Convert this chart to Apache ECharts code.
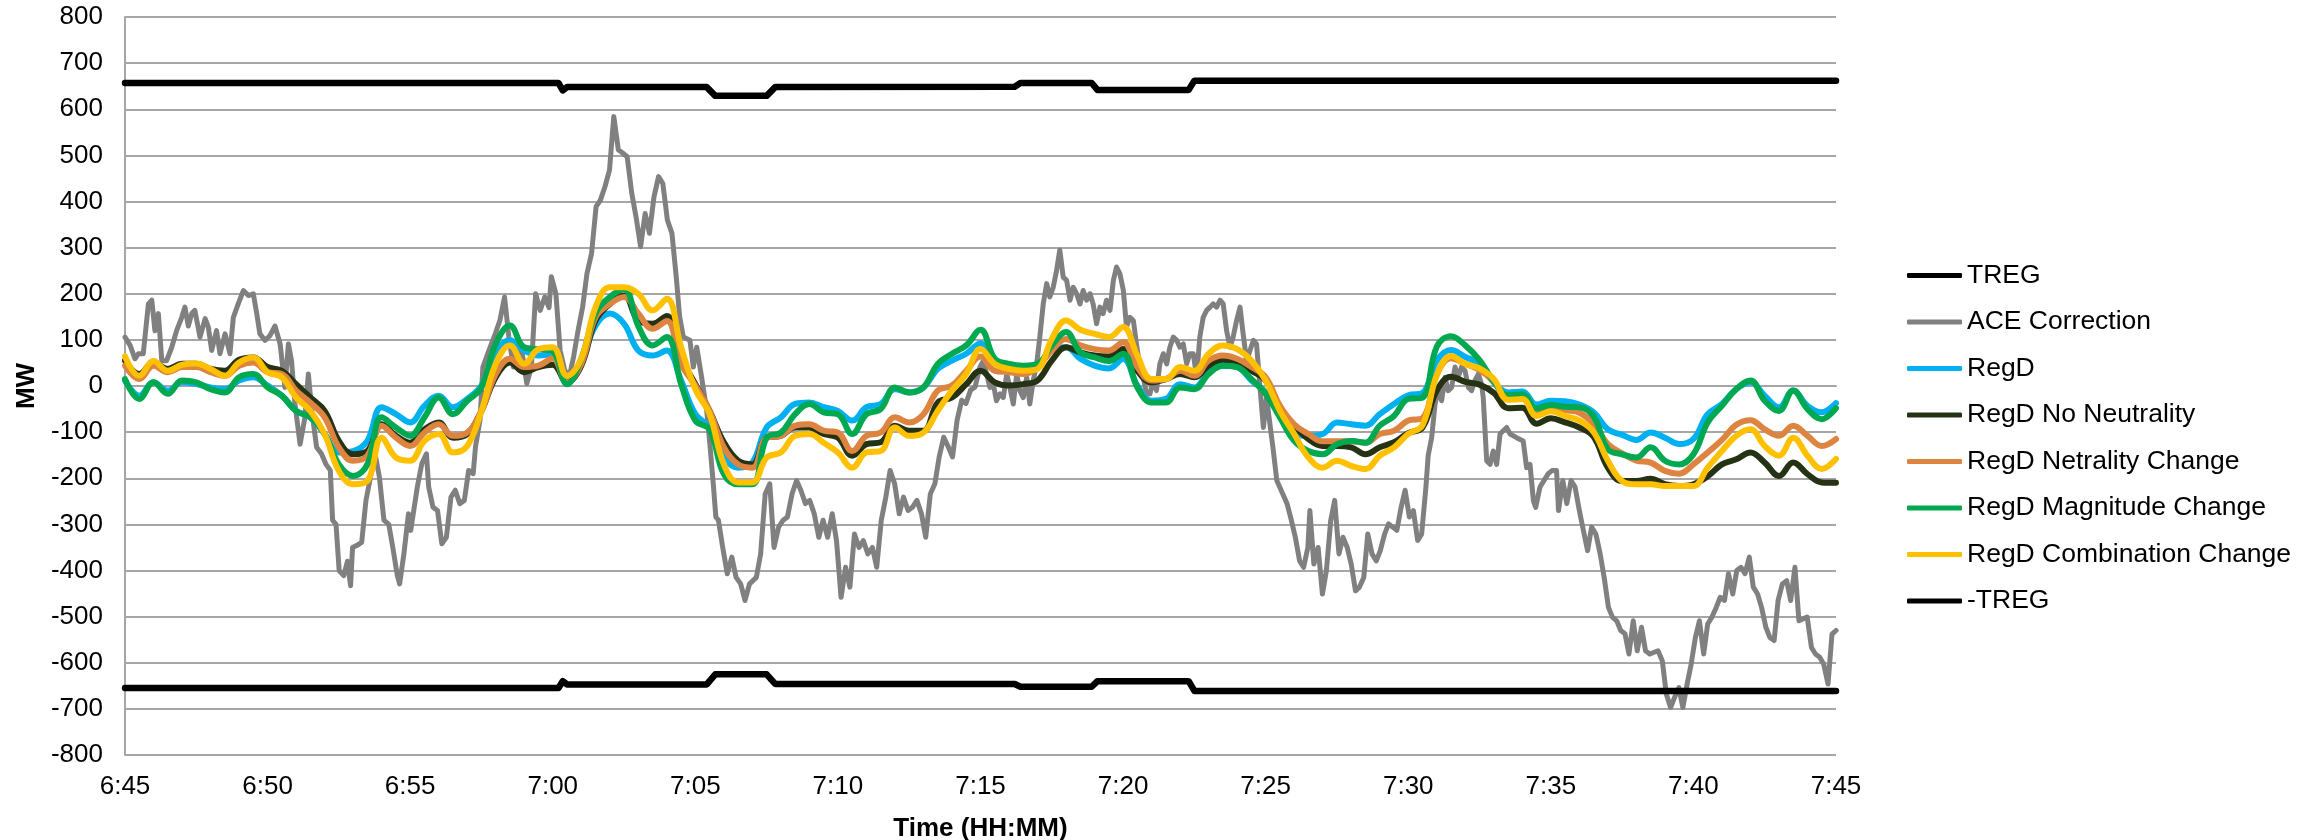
<!DOCTYPE html>
<html>
<head>
<meta charset="utf-8">
<title>RegD signals vs ACE correction</title>
<script src="https://cdn.jsdelivr.net/npm/echarts/dist/echarts.min.js"></script>
<style>
  html, body { margin: 0; padding: 0; background: #fff; }
  #chart { width: 2316px; height: 840px; }
</style>
</head>
<body>
<div id="chart"></div>
<script>
// x values are minutes after 6:45
var tickLabels = ["6:45", "6:50", "6:55", "7:00", "7:05", "7:10", "7:15", "7:20", "7:25", "7:30", "7:35", "7:40", "7:45"];

// TREG / -TREG are step-like, so they keep their own break points
var tregT = [0, 15.2, 15.35, 15.5, 20.4, 20.7, 22.5, 22.8, 31.2, 31.4, 33.9, 34.1, 37.3, 37.5, 60];
var tregV = [657, 657, 641, 648, 648, 629, 629, 648, 649, 657, 657, 642, 642, 662, 662];
var negTregV = [-655, -655, -640, -647, -647, -625, -625, -646, -646, -652, -652, -640, -640, -661, -661];

// ACE correction, read at irregular times
var aceT = [0, 0.18, 0.35, 0.47, 0.64, 0.82, 0.94, 1.05, 1.17, 1.29, 1.46, 1.64, 1.81, 1.99, 2.1, 2.22, 2.34, 2.45, 2.63, 2.81,
  2.92, 3.04, 3.21, 3.33, 3.51, 3.68, 3.8, 3.97, 4.15, 4.33, 4.5, 4.62, 4.73, 4.91, 5.08, 5.26, 5.44, 5.61, 5.73, 5.84,
  5.96, 6.14, 6.31, 6.43, 6.55, 6.72, 6.89, 7.05, 7.2, 7.28, 7.4, 7.51, 7.67, 7.8, 7.91, 7.98, 8.15, 8.3, 8.45, 8.61,
  8.77, 8.92, 9.08, 9.25, 9.39, 9.55, 9.63, 9.78, 9.94, 10.02, 10.25, 10.41, 10.57, 10.65, 10.8, 10.96, 11.11, 11.27, 11.43, 11.58,
  11.74, 11.9, 12.05, 12.21, 12.29, 12.45, 12.55, 12.76, 12.99, 13.15, 13.31, 13.46, 13.62, 13.78, 13.93, 14.09, 14.25, 14.4, 14.56, 14.72,
  14.87, 14.95, 15.11, 15.26, 15.42, 15.58, 15.73, 15.89, 16.05, 16.2, 16.36, 16.52, 16.67, 16.83, 16.99, 17.14, 17.3, 17.45, 17.61, 17.77,
  17.92, 18.08, 18.24, 18.39, 18.55, 18.71, 18.86, 19.02, 19.18, 19.33, 19.45, 19.58, 19.81, 19.93, 20.05, 20.22, 20.4, 20.51, 20.63, 20.72,
  20.81, 20.96, 21.12, 21.28, 21.43, 21.59, 21.74, 21.9, 22.14, 22.29, 22.45, 22.61, 22.76, 22.92, 23.08, 23.23, 23.39, 23.55, 23.7, 23.86,
  24.01, 24.17, 24.33, 24.48, 24.64, 24.8, 24.95, 25.11, 25.27, 25.42, 25.58, 25.74, 25.89, 26.05, 26.21, 26.36, 26.52, 26.68, 26.83, 26.99,
  27.15, 27.3, 27.46, 27.61, 27.77, 27.93, 28.08, 28.24, 28.4, 28.55, 28.71, 28.87, 29.02, 29.18, 29.34, 29.49, 29.65, 29.81, 29.98, 30.1,
  30.33, 30.45, 30.56, 30.68, 30.8, 30.92, 31.03, 31.15, 31.27, 31.38, 31.5, 31.62, 31.73, 31.85, 31.97, 32.08, 32.2, 32.32, 32.43, 32.55,
  32.67, 32.78, 32.9, 33.02, 33.14, 33.25, 33.37, 33.49, 33.6, 33.72, 33.84, 33.95, 34.07, 34.19, 34.3, 34.42, 34.54, 34.66, 34.77, 34.89,
  35.01, 35.12, 35.24, 35.36, 35.47, 35.59, 35.71, 35.82, 35.94, 36.06, 36.17, 36.29, 36.41, 36.53, 36.64, 36.76, 36.88, 36.99, 37.11, 37.23,
  37.34, 37.46, 37.58, 37.69, 37.81, 37.93, 38.05, 38.16, 38.28, 38.4, 38.51, 38.63, 38.75, 38.86, 38.98, 39.1, 39.21, 39.33, 39.45, 39.57,
  39.68, 39.8, 39.92, 40.03, 40.15, 40.27, 40.39, 40.6, 40.75, 40.9, 41.04, 41.19, 41.33, 41.48, 41.55, 41.69, 41.84, 41.99, 42.13, 42.28,
  42.42, 42.57, 42.71, 42.86, 43, 43.15, 43.29, 43.44, 43.58, 43.73, 43.88, 44.02, 44.17, 44.31, 44.46, 44.6, 44.75, 44.89, 45.04, 45.18,
  45.33, 45.47, 45.62, 45.7, 45.82, 45.94, 46.05, 46.17, 46.29, 46.4, 46.52, 46.64, 46.75, 46.87, 46.99, 47.11, 47.22, 47.34, 47.46, 47.57,
  47.63, 47.75, 47.87, 47.98, 48.1, 48.22, 48.33, 48.45, 48.57, 48.8, 49.03, 49.15, 49.27, 49.39, 49.47, 49.62, 49.91, 50.05, 50.2, 50.27,
  50.42, 50.56, 50.71, 50.85, 51, 51.14, 51.29, 51.43, 51.58, 51.73, 51.87, 52.02, 52.16, 52.31, 52.45, 52.6, 52.74, 52.89, 53.03, 53.18,
  53.32, 53.47, 53.76, 53.91, 54.05, 54.2, 54.34, 54.49, 54.63, 54.78, 54.92, 55.07, 55.21, 55.36, 55.5, 55.65, 55.8, 55.94, 56.09, 56.23,
  56.38, 56.52, 56.67, 56.81, 56.96, 57.1, 57.25, 57.39, 57.54, 57.68, 57.83, 57.97, 58.12, 58.27, 58.41, 58.56, 58.7, 58.99, 59.14, 59.28,
  59.43, 59.57, 59.72, 59.86, 60];
var aceV = [106, 88, 59, 70, 70, 178, 186, 120, 157, 55, 55, 84, 120, 149, 171, 130, 157, 164, 106, 146,
  128, 77, 120, 70, 113, 70, 149, 178, 207, 196, 200, 157, 113, 99, 109, 130, 91, -3, 91, 55,
  -39, -126, -68, 26, -54, -133, -147, -170, -183, -291, -300, -400, -411, -380, -433, -350, -345, -339, -248, -197,
  -147, -197, -291, -300, -350, -411, -429, -364, -277, -313, -219, -168, -147, -219, -263, -270, -342, -328, -241, -226,
  -255, -248, -183, -190, -132, -74, 41, 77, 114, 143, 193, 106, 41, 77, 70, 5, 41, 200, 164, 193,
  170, 237, 200, 77, 34, 20, 63, 121, 172, 244, 287, 389, 403, 432, 468, 584, 512, 505, 497, 418,
  367, 302, 374, 331, 410, 454, 439, 360, 331, 237, 150, 106, 99, 41, 84, 19, -54, -126, -213, -284,
  -291, -350, -407, -371, -415, -429, -465, -429, -415, -364, -234, -212, -350, -306, -291, -284, -234, -205, -226, -255,
  -248, -277, -328, -291, -328, -277, -335, -458, -393, -436, -321, -350, -335, -364, -350, -393, -291, -241, -183, -212,
  -277, -241, -270, -263, -248, -277, -328, -234, -212, -154, -111, -132, -154, -74, -31, -38, -9, -2, 41, 55,
  -3, 4, -32, -17, -25, 26, -3, -39, 26, -10, -25, 19, -39, 12, 48, 106, 178, 222, 193, 214,
  251, 295, 236, 229, 186, 214, 200, 178, 207, 186, 200, 178, 135, 171, 157, 186, 164, 229, 258, 243,
  207, 128, 149, 142, 91, 41, 19, -17, -17, 12, -10, 48, 70, 48, 84, 106, 99, 84, 91, 48,
  70, 70, 19, 106, 149, 164, 171, 178, 171, 186, 178, 120, 84, 106, 142, 171, 113, 55, 77, 99,
  91, -3, -90, -25, -83, -141, -205, -234, -255, -291, -328, -379, -393, -350, -270, -386, -350, -451, -400, -292,
  -248, -364, -328, -350, -386, -444, -436, -415, -321, -364, -379, -357, -321, -299, -306, -313, -263, -226, -284, -270,
  -335, -321, -219, -150, -112, -39, -10, -32, 19, -10, -3, 41, 19, 41, 33, -3, -10, 12, 26, 4,
  -25, -162, -170, -141, -170, -104, -97, -90, -104, -112, -119, -177, -170, -249, -263, -219, -190, -183, -183, -270,
  -205, -255, -205, -219, -270, -313, -357, -306, -321, -364, -415, -480, -501, -509, -530, -537, -581, -509, -574, -523,
  -574, -581, -574, -596, -668, -697, -675, -654, -697, -646, -603, -545, -509, -581, -516, -501, -480, -458, -465, -407,
  -451, -400, -393, -407, -371, -436, -451, -480, -523, -545, -552, -465, -429, -422, -465, -393, -509, -501, -567, -581,
  -588, -603, -646, -538, -530];

// RegD family, one reading every 30 s from 6:45:00 to 7:45:00
var regD = [12, -21, 8, -10, 8, 4, -3, -7, 12, 19,
  1, -21, -54, -68, -104, -144, -141, -119, -46, -61,
  -79, -43, -21, -46, -28, 1, 73, 99, 77, 66,
  70, 8, 55, 131, 157, 135, 77, 66, 77, 12,
  -61, -90, -155, -177, -166, -90, -68, -39, -36, -46,
  -54, -75, -46, -39, -7, -14, -3, 37, 55, 70,
  92, 51, 41, 33, 41, 80, 84, 59, 44, 38,
  59, 1, -32, -28, 4, -3, 30, 44, 41, 12,
  -14, -65, -104, -108, -104, -79, -83, -86, -61, -39,
  -20, -15, 55, 78, 63, 48, 8, -14, -12, -40,
  -32, -33, -40, -57, -94, -106, -117, -101, -112, -126,
  -115, -61, -39, -7, 8, -21, -46, -10, -43, -57,
  -37];
var regDNoNeutral = [55, 26, 51, 37, 48, 48, 37, 33, 57, 62,
  41, 33, 4, -25, -54, -119, -148, -141, -83, -108,
  -123, -94, -79, -112, -104, -54, 19, 51, 30, 41,
  46, 8, 44, 142, 178, 196, 142, 135, 152, 62,
  4, -54, -122, -162, -170, -112, -108, -90, -90, -104,
  -112, -151, -126, -122, -86, -97, -97, -36, -25, 4,
  33, 8, 1, 4, 12, 55, 84, 73, 66, 64,
  80, 33, 8, 15, 26, 19, 44, 57, 51, 33,
  12, -50, -86, -115, -130, -130, -133, -148, -133, -122,
  -102, -90, -10, 20, 9, 3, -15, -48, -47, -82,
  -70, -79, -90, -110, -177, -206, -206, -201, -213, -217,
  -213, -196, -170, -159, -144, -166, -195, -166, -191, -209,
  -210];
var regDNeutrality = [44, 15, 44, 30, 41, 41, 30, 22, 44, 51,
  30, 26, -10, -36, -68, -133, -162, -151, -86, -112,
  -130, -101, -83, -108, -101, -54, 26, 59, 41, 44,
  60, 8, 48, 149, 178, 193, 157, 124, 141, 48,
  1, -54, -133, -170, -177, -112, -108, -86, -83, -97,
  -101, -141, -108, -101, -68, -79, -61, -10, 1, 33,
  64, 33, 30, 26, 41, 77, 102, 88, 80, 77,
  95, 41, 12, 15, 33, 22, 55, 66, 59, 41,
  19, -43, -83, -104, -120, -120, -120, -123, -104, -97,
  -75, -70, 25, 60, 48, 35, 10, -28, -25, -53,
  -44, -52, -58, -82, -126, -146, -162, -166, -184, -190,
  -170, -144, -117, -84, -74, -94, -108, -86, -108, -130,
  -115];
var regDMagnitude = [15, -28, 8, -17, 12, 8, -7, -14, 19, 26,
  -3, -21, -54, -68, -104, -170, -195, -170, -68, -90,
  -108, -68, -25, -61, -32, -3, 91, 131, 84, 80,
  75, 4, 59, 158, 193, 210, 130, 88, 106, 4,
  -75, -94, -191, -213, -213, -112, -101, -61, -39, -57,
  -61, -104, -61, -50, -3, -14, -3, 48, 70, 88,
  122, 59, 48, 44, 48, 88, 117, 73, 62, 54,
  70, -3, -36, -36, -3, -7, 26, 44, 41, 15,
  -17, -68, -119, -141, -148, -126, -119, -123, -86, -65,
  -28, -25, 85, 108, 88, 56, 10, -20, -18, -49,
  -41, -45, -46, -66, -137, -148, -155, -133, -162, -170,
  -148, -79, -43, -7, 12, -32, -54, -10, -50, -72,
  -48];
var regDCombination = [64, 22, 54, 33, 46, 49, 37, 22, 51, 62,
  30, 19, -25, -54, -104, -184, -213, -206, -112, -155,
  -162, -119, -104, -144, -130, -54, 48, 88, 48, 80,
  84, 22, 59, 171, 214, 214, 200, 164, 189, 84,
  -7, -61, -170, -209, -209, -155, -144, -108, -104, -123,
  -144, -177, -144, -141, -90, -108, -101, -54, -10, 26,
  80, 48, 37, 33, 37, 102, 142, 122, 113, 106,
  128, 66, 15, 15, 41, 33, 70, 88, 80, 55,
  12, -54, -104, -155, -177, -162, -173, -180, -151, -133,
  -104, -85, 23, 65, 48, 38, 15, -30, -28, -65,
  -55, -65, -75, -100, -162, -206, -213, -213, -217, -217,
  -217, -177, -141, -108, -94, -130, -151, -112, -151, -180,
  -158];

var halfMinutes = [];
for (var i = 0; i < regD.length; i++) halfMinutes.push(i * 0.5);

function pairs(xs, ys) {
  return ys.map(function (y, k) { return [xs[k], y]; });
}

var font = "'Liberation Sans', Arial, sans-serif";

function lineSeries(name, color, width, xs, ys, smooth) {
  return {
    name: name,
    type: "line",
    data: pairs(xs, ys),
    symbol: "none",
    smooth: smooth,
    color: color,
    lineStyle: { width: width, color: color, cap: "round", join: "round" }
  };
}

var legendNames = ["TREG", "ACE Correction", "RegD", "RegD No Neutrality", "RegD Netrality Change",
  "RegD Magnitude Change", "RegD Combination Change", "-TREG"];

var myChart = echarts.init(document.getElementById("chart"), null, { renderer: "canvas" });

var option = {
  animation: false,
  backgroundColor: "#fff",
  textStyle: { fontFamily: font },
  // fixed plot box, no auto shrinking for labels
  grid: { left: 125, top: 17, width: 1711, height: 738, containLabel: false, outerBoundsMode: "none" },
  legend: {
    orient: "vertical",
    left: 1902,
    top: 257,
    icon: "roundRect",
    itemWidth: 55,
    itemHeight: 5,
    itemGap: 19.5,
    textStyle: { fontSize: 26.5, color: "#000", fontFamily: font },
    data: legendNames
  },
  xAxis: {
    type: "value",
    min: 0,
    max: 60,
    interval: 5,
    name: "Time (HH:MM)",
    nameLocation: "middle",
    nameGap: 61,
    nameTextStyle: { fontSize: 26, fontWeight: "bold", color: "#000", fontFamily: font },
    axisLine: { show: true, lineStyle: { color: "#a6a6a6", width: 2 } },
    axisTick: { show: false },
    splitLine: { show: false },
    axisLabel: {
      fontSize: 26,
      color: "#000",
      margin: 19,
      fontFamily: font,
      formatter: function (v) { return tickLabels[Math.round(v / 5)]; }
    }
  },
  yAxis: {
    type: "value",
    min: -800,
    max: 800,
    interval: 100,
    name: "MW",
    nameLocation: "middle",
    nameGap: 84,
    nameTextStyle: { fontSize: 26, fontWeight: "bold", color: "#000", fontFamily: font },
    axisLine: { show: true, lineStyle: { color: "#a6a6a6", width: 2 } },
    axisTick: { show: false },
    splitLine: { show: true, lineStyle: { color: "#a6a6a6", width: 2 } },
    axisLabel: { fontSize: 26, color: "#000", margin: 22, fontFamily: font }
  },
  series: [
    lineSeries("TREG", "#000000", 6.5, tregT, tregV, false),
    lineSeries("ACE Correction", "#808080", 5, aceT, aceV, false),
    lineSeries("RegD", "#00b0f0", 6, halfMinutes, regD, 0.4),
    lineSeries("RegD No Neutrality", "#263214", 6, halfMinutes, regDNoNeutral, 0.4),
    lineSeries("RegD Netrality Change", "#dd8440", 6, halfMinutes, regDNeutrality, 0.4),
    lineSeries("RegD Magnitude Change", "#00a84f", 6, halfMinutes, regDMagnitude, 0.4),
    lineSeries("RegD Combination Change", "#ffc000", 6, halfMinutes, regDCombination, 0.4),
    lineSeries("-TREG", "#000000", 6.5, tregT, negTregV, false)
  ]
};

myChart.setOption(option);
</script>
</body>
</html>
